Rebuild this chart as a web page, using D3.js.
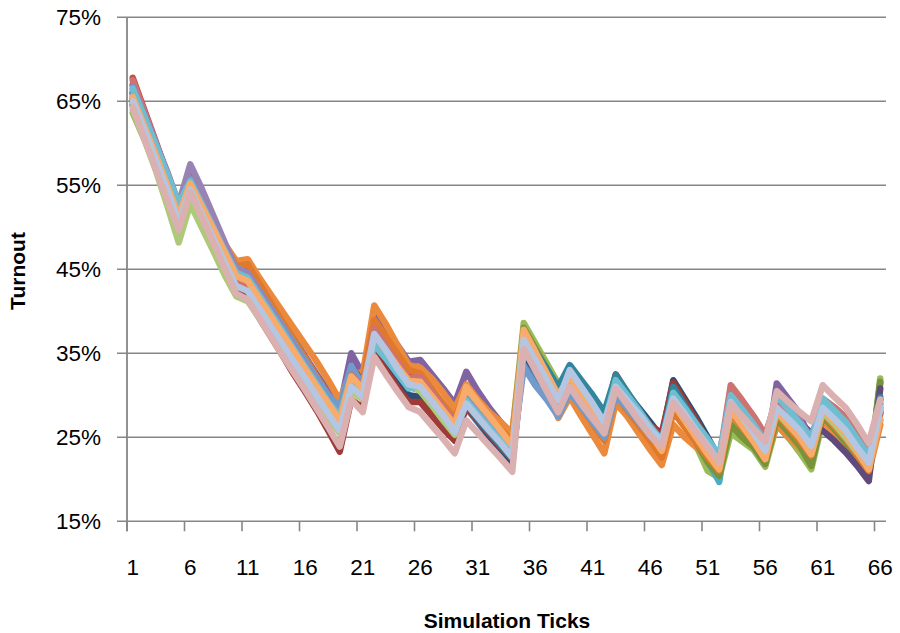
<!DOCTYPE html>
<html><head><meta charset="utf-8">
<script src="https://cdn.jsdelivr.net/npm/d3@7"></script>
<style>
html,body{margin:0;padding:0;background:#fff;}
svg{display:block;font-family:"Liberation Sans",Arial,sans-serif;}
</style></head>
<body><svg id="chart" width="900" height="633"></svg>
<script>
// ---------- data ----------
const ticksCount = 66;
const xTickLabels = [1,6,11,16,21,26,31,36,41,46,51,56,61,66];
const yTicks = [15,25,35,45,55,65,75];

const blue = [66,62.5,59,55.5,51.8,55.3,52.7,50,47.3,44.8,44.3,42.3,40.2,38.1,36,34,31.9,29.9,28,33.5,31,36.5,34.7,32.8,31,30.6,28.8,27,25.3,28.5,26.8,25,23.3,22,34.5,32.3,30.2,28,31,29.2,27.4,25.5,30.3,28.8,27.2,25.6,24,30.3,28.2,26.2,24,22,28.5,26.8,25,23,29,27.5,26,24.2,28.8,27.5,26.2,24.3,22.2,29.5];
const red = [67.8,64,60.2,56.3,52.3,55.5,52.8,50,47.2,44.5,43.8,41.8,39.8,37.7,35.6,33.5,31.4,29.4,27.5,33,31,38.2,36.2,34.2,32.2,32.4,30.5,28.8,27,30,28.6,27.2,25.8,24.2,36.5,34,31.8,29.5,32,30.2,28.3,26,31.5,29.8,28,26.2,24.2,30,28,26,24,22.2,30.2,28.4,26.6,24.6,30,28.5,26.8,24.5,29.5,28.2,26.8,24.8,22.5,28.5];
const green = [63.6,60.5,57.2,53.8,50.2,53.5,51,48.4,45.8,43.3,42.5,40.5,38.4,36.3,34.2,32.1,30,28,26,31,29.8,36.5,35,33.2,31.5,31.3,29.8,28.3,26.8,30.5,28.6,27.2,26.2,25.3,38.6,36.2,33.8,31.4,32.6,30.6,28.6,26.5,31,29.2,27.2,25,24,29,26.5,24,21,20.2,25.5,24.5,23.5,21.5,26.5,25,23.2,21.2,27,25.5,23.8,22,20.5,32];
const purple = [67,63.5,60,56.5,52.5,56.5,54,51,48,45.5,45,43,41,39,36.8,34.6,32.5,30.5,28.5,35,32.5,39.5,37.8,36,34,34.2,32.5,30.8,29,32.8,30.5,28.5,26.8,25,36.5,34,31.5,29,31.5,29.5,27.5,25.3,30.5,29,27.2,25.3,23.5,29,27,25,23.2,21.5,27.5,26,24.2,22.3,31.4,29.6,27.8,24.2,27.8,26.5,25,22.8,20.5,31.5];
const aqua = [66.4,63,59.6,56.3,52.6,55.2,52.8,50.3,47.7,45.2,44.2,42,40,37.8,35.6,33.4,31.3,29.3,27.2,32,30.5,36.2,34.6,32.8,31,31,29.3,27.6,25.8,29.3,27.6,26,24.5,23,36.8,34.5,32.2,29.8,32.5,30.4,28.2,26,31.6,29.6,27.6,25.6,24,30.6,28,25.2,22.2,19.7,29.3,27.3,25.2,23.2,28.5,26.8,25.3,23.5,28.2,26.8,25.3,23.5,21.5,28];
const orange = [65.5,62.5,59.5,56,52,55.5,53,50.5,48,46,46.2,44,42,40,38,36,34,31.8,29.4,33,32.5,40.7,38.5,36,33.6,33.3,32,30.3,28.4,31.3,29.5,28,26.8,25.5,37.5,34.5,31,27.3,29.8,27.5,25.3,23.1,29.1,27.5,25.5,23.5,21.7,26.5,25,23.8,22.5,21,27.5,25.8,24,22,26.5,25,23.8,22.2,27,25.5,24.2,22.5,20.8,26.5];
const darkBlue = [65,61.5,58,54.5,51,54.5,51.8,49,46.2,43.6,43,41,38.9,36.8,34.7,32.6,30.5,28.4,26.3,31,29.8,36,34,32,30,29.8,28.2,26.6,24.8,28.8,27,25.2,23.5,21.8,35,33,31,28.8,32,30.3,28.6,26.8,31.8,30.2,28.5,26.8,25,31.8,29.6,27.4,25,22.5,29,27.2,25.3,23.4,29.5,27.8,26,24,29,27.6,26,23.8,21.8,29.5];
const darkRed = [64.5,61,57.5,54,50.3,53,50.5,47.8,45,42.5,41.5,39.2,37,34.8,32.5,30.4,28.2,25.8,23.3,29.5,28.5,35,33,31,29.2,29.2,27.6,26,24.6,28.6,27,25.4,23.8,22.4,35.5,33.5,31.5,29.5,33,31,29,27,32.5,30.3,28.2,26.4,25.5,31.5,29.3,27,24.6,22.4,29.5,27.6,25.6,23.6,28.8,27.3,25.8,24.2,28.6,27,25.4,23.4,21.4,27.8];
const darkGreen = [64.8,61.2,57.6,54,50.5,53.8,51.2,48.6,46,43.4,42.6,40.5,38.4,36.3,34.2,32.1,30,27.9,25.8,30.8,29.6,36.6,35.2,33.4,31.6,31.4,29.8,28.2,26.4,30.2,28.6,27,25.6,24.2,38,35.6,33.2,30.8,32.8,30.8,28.8,26.8,31.2,29.4,27.6,25.4,23.5,28.8,26.6,24.4,22,20.4,26.5,25,23.8,21.8,27.2,25.6,24,21.6,27.5,26,24.4,22.4,20.6,31.6];
const darkPurple = [65.2,61.8,58.3,54.8,51.2,55.5,52.8,50,47.2,44.5,44,42,40,37.8,35.6,33.4,31.2,29,27,33.5,31.5,37.5,35.5,33.5,31.5,32,30.2,28.4,26.6,30.5,28.8,27.2,25.6,24,36.2,33.8,31.4,29,31.5,29.6,27.7,25.8,30.6,29,27.3,25.5,23.6,29.6,27.5,25.5,23.4,21.5,28.6,26.8,25,22.8,30.5,28.6,26.8,25.5,25.8,24.6,23.2,21.6,19.8,30.8];
const darkTeal = [66,62.6,59.2,55.8,52,55,52.4,49.8,47,44.5,43.8,41.7,39.6,37.5,35.3,33.2,31.1,29,27,31.8,30.2,36.8,35,33,31,30.8,29,27.3,25.5,29,27.2,25.6,24,22.5,37.2,35.2,33.2,31,33.6,31.8,30,28,32.4,30.4,28.4,26.2,24.5,31,28.8,26.6,24.4,22,29.8,27.8,25.8,23.8,29.2,27.6,26,24.2,29.4,28,26.5,24.5,22.3,29.8];
const darkOrange = [65.8,62.3,58.8,55.2,51.5,55.8,53.2,50.6,47.8,45.4,45.6,43.3,41,38.8,36.6,34.4,32.2,30,28,32.4,31.6,39,37,35,33,32.6,30.8,29,27.2,30.6,29,27.4,25.9,24.5,36.8,34,31.2,28.4,30.5,28.6,26.6,24.6,30,28.2,26.4,24.6,22.6,28,26.2,24.4,22.6,21,28,26.2,24.4,22.4,27.8,26.2,24.6,22.8,27.8,26.3,24.8,22.8,21,27];
const midBlue = [66,62.6,59,55.5,51.8,55.8,53.2,50.5,47.8,45.2,44.5,42.5,40.4,38.3,36.2,34.1,32,30,28.6,33.5,31.2,37,35.2,33.2,31.4,31.4,29.6,27.9,26.2,29.4,27.7,26,24.4,22.8,33.4,31.2,29.5,27.5,30.3,28.6,26.8,25,30,28.4,26.8,25.2,23.6,29.5,27.8,26,24.2,22.5,29.5,27.6,25.6,23.5,29.2,27.6,26,24,29,27.8,26.6,24.8,22.6,28.2];
const lightRed = [67.5,63.8,60,56,51.8,54.8,52,49.2,46.3,43.5,43,41,38.9,36.8,34.7,32.6,30.5,28.4,26.4,32.5,30.8,38,36,34,32,32.2,30.4,28.6,26.8,29.8,28,26.4,24.8,23.2,36.8,34.2,31.8,29.2,31.4,29.5,27.6,25.6,30.8,29.2,27.5,25.8,24.3,29.8,27.9,26,24.2,22.4,31.2,29.4,27.5,25.3,29.5,28,26.5,24.6,29.6,28.6,27.4,25.5,23.4,28];
const lightGreen = [64,60.5,56.8,52.6,48.2,52.8,50,47.2,44.3,41.8,41.2,39.2,37.2,35.2,33.2,31.2,29.3,27.4,25.5,30.5,29.5,36.5,34.8,33,31.2,30.5,28.8,27,25.3,30,28.3,26.7,25.2,23.8,36,33.6,31.3,28.8,31.2,29.4,27.5,25.5,30.8,29,27.3,25.6,23.5,29.2,27.3,25.3,23.5,21.8,28.2,26.5,24.8,22.8,28,26.5,25,23,28,26.6,25,23.2,21.3,28.6];
const lightPurple = [66.8,63.4,60,56.6,52.8,57.5,54.6,51.4,48.2,45,44.6,42.4,40.2,38,35.8,33.6,31.4,29.2,27,32,30.5,37,35.3,33.4,31.5,31.2,29.5,27.8,26,29.6,28,26.5,25,23.5,36,33.8,31.5,29.2,31.8,30,28,26,30.8,29,27.4,25.7,24,29.4,27.6,25.8,23.8,22,28.8,27,25,23.2,30,28.6,27,25,29,27.4,25.8,23.5,21.5,29];
const lightAqua = [66.5,63.2,59.8,56.3,52.8,55.5,52.8,50,47.2,44.6,44,41.9,39.8,37.7,35.5,33.4,31.3,29.2,27.5,32.3,30.5,36,34.4,32.6,30.8,31.2,29.5,27.8,26,29.4,27.8,26.2,24.6,23,36.2,34,31.8,29.6,32.5,30.6,28.6,26.6,31.8,30,28.2,26.3,24.6,30.3,28.5,26.6,24.8,22.8,30,28.3,26.5,24.5,30,28.3,26.7,24.8,29.6,28.2,26.8,24.8,22.8,29];
const lightOrange = [65.5,62,58.6,55,51.3,55.2,52.5,49.8,47,44.2,43.6,41.5,39.4,37.3,35.2,33.1,31,29,27,32.2,30.8,37.2,35.4,33.5,31.7,31.6,29.9,28.2,26.5,31,29.2,27.5,25.8,24,37.8,35.2,32.6,30,32.2,30.2,28.2,26,31,29.2,27.3,25.4,23.4,29,27,25,23,21.2,28.3,26.4,24.5,22.4,28.2,26.6,25,23,28.4,27,25.5,23.4,21.2,27.2];
const paleBlue = [65,61.6,58,54.4,50.6,54.5,51.6,48.7,45.8,43,42.4,40.3,38.2,36.1,34,32,29.9,27.8,25.8,31,29.8,37.3,35.4,33.2,31.3,31,29.3,27.6,25.6,29,27.4,25.8,24.3,22.6,36.6,34.2,31.8,29.4,33,31,29,26.8,31,29.4,27.8,26,24.5,29.6,27.8,25.8,24,22,29.2,27.4,25.5,23.4,28.5,27.2,25.8,24,28.5,27.2,25.8,23.8,22,28.5];
const pink = [64.3,60.6,56.9,53.3,49.7,54.2,51.2,48.2,45.1,42.1,41.4,39.2,37,34.8,32.7,30.6,28.4,26.2,23.9,29.5,28,34.6,32.5,30.5,28.6,28,26.4,24.8,23.1,27,25.5,24,22.5,20.9,35.5,33,30.5,28,31,29,27.2,25.5,30.8,28.9,27,25.2,23.9,29.1,27.4,25.6,23.8,22,29,27.5,26,24.5,30.5,29.2,28,26.9,31.2,29.8,28.5,26.5,24.3,29.5];

const seriesValues = [blue, red, green, purple, aqua, orange, darkBlue, darkRed, darkGreen, darkPurple, darkTeal, darkOrange, midBlue, lightRed, lightGreen, lightPurple, lightAqua, lightOrange, paleBlue, pink];
const seriesColors = ["#4F81BD","#C0504D","#9BBB59","#8064A2","#4BACC6","#EB8A3C","#2C4D75","#9E3A37","#77933C","#604A7B","#31859C","#E07A2A","#729ACA","#CD7371","#AFC97A","#9983B5","#6FBDD1","#F9AB6B","#B4C6E1","#DBB0B0"];

// ---------- layout ----------
const svg = d3.select("#chart");
const plotLeft = 127, plotRight = 886, plotTop = 17.3, plotBottom = 521.3;
const cats = d3.range(1, ticksCount + 1);
const x = d3.scalePoint().domain(cats).range([plotLeft, plotRight]).padding(0.5);
const step = x.step();
const y = d3.scaleLinear().domain([15, 75]).range([plotBottom, plotTop]);
const axisColor = "#868686";

// gridlines
svg.append("g").selectAll("line").data(yTicks).join("line")
  .attr("x1", plotLeft - 10).attr("x2", plotRight)
  .attr("y1", d => y(d)).attr("y2", d => y(d))
  .attr("stroke", axisColor).attr("stroke-width", 1.6);

// y axis line
svg.append("line").attr("x1", plotLeft).attr("x2", plotLeft).attr("y1", plotTop).attr("y2", plotBottom + 10)
  .attr("stroke", axisColor).attr("stroke-width", 1.8);

// x tick marks at category boundaries
svg.append("g").selectAll("line").data(xTickLabels).join("line")
  .attr("x1", d => x(d) - step / 2).attr("x2", d => x(d) - step / 2)
  .attr("y1", plotBottom).attr("y2", plotBottom + 10)
  .attr("stroke", axisColor).attr("stroke-width", 1.6);

// y labels
svg.append("g").selectAll("text").data(yTicks).join("text")
  .attr("x", 101).attr("y", d => y(d)).attr("dy", "0.36em")
  .attr("text-anchor", "end").attr("font-size", 22.5).attr("fill", "#000")
  .text(d => d + "%");

// x labels
svg.append("g").selectAll("text").data(xTickLabels).join("text")
  .attr("x", d => x(d)).attr("y", 575)
  .attr("text-anchor", "middle").attr("font-size", 22.5).attr("fill", "#000")
  .text(d => d);

// lines
const line = d3.line().x((d, i) => x(cats[i])).y(d => y(d));
svg.append("g").selectAll("path").data(seriesValues).join("path")
  .attr("d", d => line(d))
  .attr("fill", "none")
  .attr("stroke", (d, i) => seriesColors[i])
  .attr("stroke-width", 6.5)
  .attr("stroke-linejoin", "round")
  .attr("stroke-linecap", "round");

// axis titles
svg.append("text").attr("x", 507).attr("y", 628).attr("text-anchor", "middle")
  .attr("font-size", 21).attr("font-weight", "bold").text("Simulation Ticks");
svg.append("text").attr("transform", "translate(25,271) rotate(-90)").attr("text-anchor", "middle")
  .attr("font-size", 21).attr("font-weight", "bold").text("Turnout");
</script></body></html>
